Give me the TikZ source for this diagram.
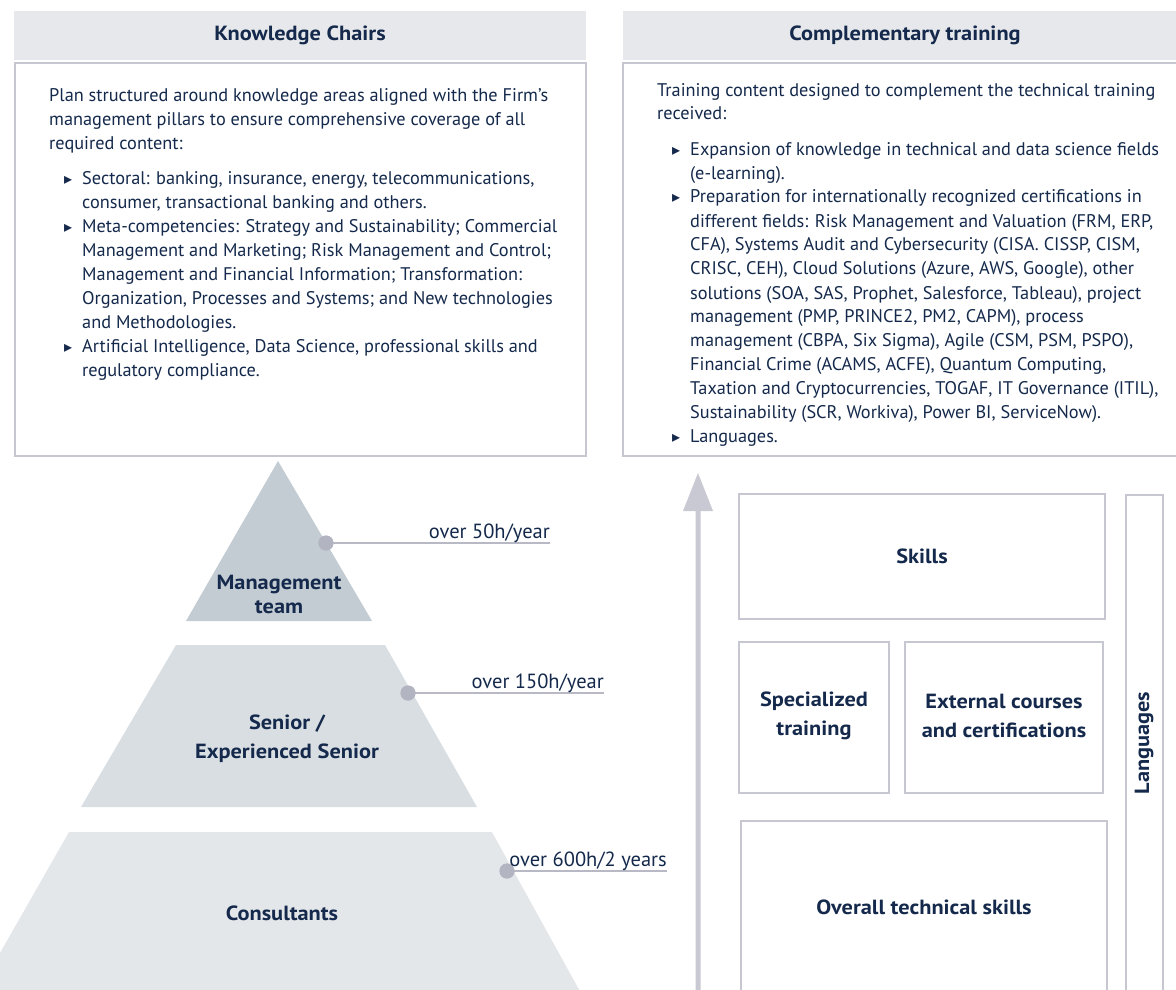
\documentclass[tikz,border=0pt]{standalone}
\usepackage{fontspec}
\setmainfont{PT Sans}
\newfontfamily\hfont[FakeStretch=1.09]{PT Sans Bold}
\newfontfamily\symfont{DejaVu Sans}
\definecolor{txt}{HTML}{14294B}
\definecolor{headfill}{HTML}{E6E8EB}
\definecolor{boxline}{HTML}{C6C7D0}
\definecolor{pyrA}{HTML}{C3CBD3}
\definecolor{pyrB}{HTML}{D9DEE2}
\definecolor{pyrC}{HTML}{E4E7EA}
\definecolor{dotc}{HTML}{B3B4C1}
\definecolor{leadc}{HTML}{B8B9C4}
\definecolor{arrowc}{HTML}{C9C9D3}
% bullet marker and line indents for the two text panels
\newcommand\bulmark{{\symfont\fontsize{16}{16}\selectfont ▸}}
\newcommand\bl{\hspace*{15pt}\makebox[18pt][l]{\bulmark}}
\newcommand\ct{\hspace*{33pt}}
\begin{document}
\begin{tikzpicture}[x=1pt,y=-1pt,
  head/.style={fill=headfill,draw=none},
  panel/.style={draw=boxline,line width=1.3pt,fill=white},
  cell/.style={draw=boxline,line width=1.3pt},
  bodytext/.style={inner sep=0pt,anchor=base west,text=txt,font=\fontsize{18.3}{24}\selectfont},
  headtext/.style={text=txt,font=\hfont\fontsize{20.5}{24}\selectfont},
  lvl/.style={text=txt,align=center,inner sep=0pt,font=\hfont\fontsize{20.5}{29}\selectfont},
  hours/.style={text=txt,inner sep=0pt,anchor=base east,font=\fontsize{20.5}{22}\selectfont},
  dotmark/.style={circle,fill=dotc,minimum size=15pt,inner sep=0pt},
  leader/.style={draw=leadc,line width=1.3pt}]
\useasboundingbox (0,0) rectangle (1176,990);
\clip (0,0) rectangle (1176,990);

% ---- top panels ----
\fill[head] (14,11) rectangle (586,60);
\node[headtext] (hk) at (300,35) {Knowledge Chairs};
\draw[panel] (15,63) rectangle (586,456);
\node[bodytext] (tk) at (49,102) {\parbox[t]{560pt}{\raggedright
Plan structured around knowledge areas aligned with the Firm's\\
management pillars to ensure comprehensive coverage of all\\
required content:\\[11pt]
\bl Sectoral: banking, insurance, energy, telecommunications,\\
\ct consumer, transactional banking and others.\\
\bl Meta-competencies: Strategy and Sustainability; Commercial\\
\ct Management and Marketing; Risk Management and Control;\\
\ct Management and Financial Information; Transformation:\\
\ct Organization, Processes and Systems; and New technologies\\
\ct and Methodologies.\\
\bl Artificial Intelligence, Data Science, professional skills and\\
\ct regulatory compliance.}};

\fill[head] (623,11) rectangle (1180,60);
\node[headtext] (hc) at (905,35) {Complementary training};
\draw[panel] (623,63) rectangle (1180,456);
\node[bodytext] (tc) at (657,96) {\parbox[t]{560pt}{\raggedright
Training content designed to complement the technical training\\
received:\\[11pt]
\bl Expansion of knowledge in technical and data science fields\\
\ct (e-learning).\\
\bl Preparation for internationally recognized certifications in\\
\ct different fields: Risk Management and Valuation (FRM, ERP,\\
\ct CFA), Systems Audit and Cybersecurity (CISA. CISSP, CISM,\\
\ct CRISC, CEH), Cloud Solutions (Azure, AWS, Google), other\\
\ct solutions (SOA, SAS, Prophet, Salesforce, Tableau), project\\
\ct management (PMP, PRINCE2, PM2, CAPM), process\\
\ct management (CBPA, Six Sigma), Agile (CSM, PSM, PSPO),\\
\ct Financial Crime (ACAMS, ACFE), Quantum Computing,\\
\ct Taxation and Cryptocurrencies, TOGAF, IT Governance (ITIL),\\
\ct Sustainability (SCR, Workiva), Power BI, ServiceNow).\\
\bl Languages.}};

% ---- pyramid ----
\fill[pyrA] (278,461) -- (372,621) -- (186,621) -- cycle;
\fill[pyrB] (176,645) -- (385,645) -- (477,807) -- (81,807) -- cycle;
\fill[pyrC] (69,832) -- (492,832) -- (582,995) -- (-24,995) -- cycle;
\node[lvl,font=\hfont\fontsize{20.5}{24}\selectfont] (mt) at (279,594) {Management\\team};
\node[lvl] (sr) at (287,739) {Senior /\\Experienced Senior};
\node[lvl] (cs) at (282,913) {Consultants};

% hour markers
\node[dotmark] (d1) at (326,543) {};
\coordinate (e1) at (550,543);
\draw[leader] (d1.center) -- (e1);
\node[dotmark] (d1) at (326,543) {};
\node[hours] (h1) at (550,538) {over 50h/year};

\node[dotmark] (d2) at (408,693) {};
\coordinate (e2) at (604,693);
\draw[leader] (d2.center) -- (e2);
\node[dotmark] (d2) at (408,693) {};
\node[hours] (h2) at (604,688) {over 150h/year};

\node[dotmark] (d3) at (507,871) {};
\coordinate (e3) at (667,871);
\draw[leader] (d3.center) -- (e3);
\node[dotmark] (d3) at (507,871) {};
\node[hours] (h3) at (667,866) {over 600h/2 years};

% ---- progression arrow ----
\fill[arrowc] (695.5,995) -- (695.5,511) -- (683,511) -- (698,473) -- (713,511) -- (700.5,511) -- (700.5,995) -- cycle;

% ---- training blocks ----
\draw[cell] (739,494) rectangle (1105,619);
\node[headtext] (sk) at (922,556) {Skills};
\draw[cell] (739,642) rectangle (889,793);
\node[lvl] (sp) at (814,716) {Specialized\\training};
\draw[cell] (905,642) rectangle (1103,793);
\node[lvl] (ex) at (1004,716) {External courses\\and certifications};
\draw[cell] (741,821) rectangle (1107,1000);
\node[headtext] (ov) at (924,907) {Overall technical skills};
\draw[cell] (1126,495) rectangle (1163,1000);
\node[headtext,rotate=90] (lg) at (1144,743) {Languages};
\end{tikzpicture}
\end{document}
